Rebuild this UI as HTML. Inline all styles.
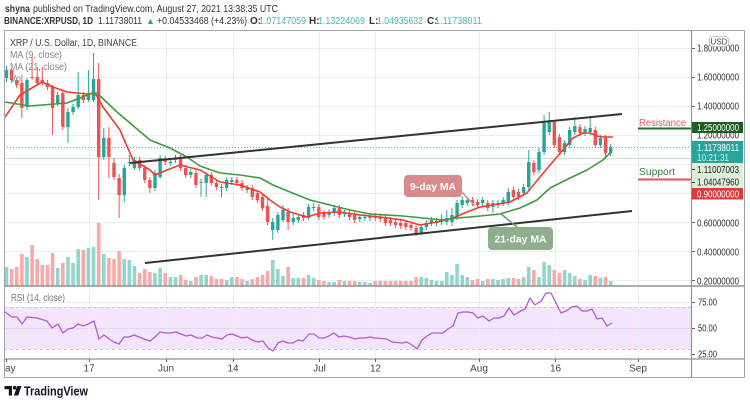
<!DOCTYPE html>
<html><head><meta charset="utf-8"><style>
html,body{margin:0;padding:0;background:#fff;}
body{width:750px;height:404px;overflow:hidden;}
svg{display:block;font-family:"Liberation Sans",sans-serif;}
</style></head><body>
<svg id="s" width="750" height="404" viewBox="0 0 750 404" xmlns="http://www.w3.org/2000/svg">
<rect width="750" height="404" fill="#fff"/>
<!-- header -->
<text x="5" y="12" font-size="10.5" fill="#333" font-weight="bold" textLength="25" lengthAdjust="spacingAndGlyphs">shyna</text>
<text x="33" y="12" font-size="10.5" fill="#333" textLength="245" lengthAdjust="spacingAndGlyphs">published on TradingView.com, August 27, 2021 13:38:35 UTC</text>
<text x="4" y="24" font-size="10" fill="#333" font-weight="bold" textLength="89" lengthAdjust="spacingAndGlyphs">BINANCE:XRPUSD, 1D</text>
<text x="98" y="24" font-size="10" fill="#333" textLength="44" lengthAdjust="spacingAndGlyphs">1.11738011</text>
<text x="146" y="24" font-size="9" fill="#26a69a">▲</text>
<text x="157" y="24" font-size="10" fill="#333" textLength="90" lengthAdjust="spacingAndGlyphs">+0.04533468 (+4.23%)</text>
<text x="250" y="24" font-size="10" fill="#333" font-weight="bold">O:</text>
<text x="259" y="24" font-size="10" fill="#4db6ac" textLength="47" lengthAdjust="spacingAndGlyphs">1.07147059</text>
<text x="309" y="24" font-size="10" fill="#333" font-weight="bold">H:</text>
<text x="318" y="24" font-size="10" fill="#4db6ac" textLength="47" lengthAdjust="spacingAndGlyphs">1.13224069</text>
<text x="369" y="24" font-size="10" fill="#333" font-weight="bold">L:</text>
<text x="377" y="24" font-size="10" fill="#4db6ac" textLength="46" lengthAdjust="spacingAndGlyphs">1.04935632</text>
<text x="427" y="24" font-size="10" fill="#333" font-weight="bold">C:</text>
<text x="435" y="24" font-size="10" fill="#4db6ac" textLength="47" lengthAdjust="spacingAndGlyphs">1.11738011</text>

<!-- RSI band -->
<rect x="4.5" y="307" width="687" height="42" fill="#f3e6fc"/>
<!-- grid -->
<g stroke="#e9eef3" stroke-width="1">
<line x1="4" x2="691" y1="48.5" y2="48.5"/><line x1="4" x2="691" y1="77.5" y2="77.5"/>
<line x1="4" x2="691" y1="106.5" y2="106.5"/><line x1="4" x2="691" y1="135.5" y2="135.5"/>
<line x1="4" x2="691" y1="164.5" y2="164.5"/><line x1="4" x2="691" y1="193.5" y2="193.5"/>
<line x1="4" x2="691" y1="222.5" y2="222.5"/><line x1="4" x2="691" y1="251.5" y2="251.5"/>
<line x1="4" x2="691" y1="280.5" y2="280.5"/>
<line x1="4" x2="691" y1="302.5" y2="302.5"/><line x1="4" x2="691" y1="328.5" y2="328.5" stroke="#e4d6ef"/>
<line x1="89.5" x2="89.5" y1="31" y2="359"/><line x1="166.5" x2="166.5" y1="31" y2="359"/>
<line x1="233.5" x2="233.5" y1="31" y2="359"/><line x1="319.5" x2="319.5" y1="31" y2="359"/>
<line x1="375.5" x2="375.5" y1="31" y2="359"/><line x1="479.5" x2="479.5" y1="31" y2="359"/>
<line x1="555.5" x2="555.5" y1="31" y2="359"/><line x1="638.5" x2="638.5" y1="31" y2="359"/>
</g>
<g stroke="#c9c9c9" stroke-width="1" stroke-dasharray="3,3">
<line x1="4" x2="691" y1="307.5" y2="307.5"/><line x1="4" x2="691" y1="349.5" y2="349.5"/>
</g>
<!-- price lines -->
<line x1="4" x2="691" y1="158.5" y2="158.5" stroke="#c8e6c4" stroke-width="1"/>
<line x1="4" x2="691" y1="147.5" y2="147.5" stroke="#5bb8a8" stroke-width="1" stroke-dasharray="1,2"/>

<g id="vol"></g>
<g id="cdl"></g>

<!-- MAs -->
<polyline fill="none" stroke="#f23b2f" stroke-width="1.6" stroke-linejoin="round" points="5,117 20,95 42,82 53,87 67,92 87,94 95,93 103,107 120,130 133,160 150,170 155,175 167,170 180,165 200,170 220,182 240,185 260,192 270,200 280,207 290,212 307,217 320,213 340,212 360,215 380,217 403,220 420,225 437,222 453,218 467,212 480,207 493,205 510,202 527,193 540,177 550,165 563,150 573,138 583,133 590,133 597,136 603,137 613,137"/>
<polyline fill="none" stroke="#3f9a3f" stroke-width="1.6" stroke-linejoin="round" points="5,102 30,106 67,103 90,94 97,93 117,112 150,140 170,148 187,157 200,166 220,173 240,175 260,178 273,185 290,192 310,200 330,205 350,210 370,214 403,216 423,218 443,220 457,218 470,217 500,214 520,208 537,200 550,188 570,178 587,170 603,160 611,152"/>

<!-- trend lines -->
<line x1="130" y1="163" x2="622" y2="114" stroke="#333" stroke-width="2"/>
<line x1="145" y1="263" x2="632" y2="211" stroke="#333" stroke-width="2"/>

<!-- annotations -->
<line x1="460" y1="190" x2="475" y2="206" stroke="#d98a8a" stroke-width="1.5"/>
<rect x="404" y="175" width="58" height="22" rx="4" fill="#d98a8a"/>
<text x="433" y="190" font-size="10" font-weight="bold" fill="#fff" text-anchor="middle" textLength="46" lengthAdjust="spacingAndGlyphs">9-day MA</text>
<line x1="500" y1="213" x2="518" y2="228" stroke="#6d9a6a" stroke-width="1.5"/>
<rect x="488" y="227" width="65" height="23" rx="4" fill="#8fae8c"/>
<text x="520.5" y="242.5" font-size="10" font-weight="bold" fill="#fff" text-anchor="middle" textLength="52" lengthAdjust="spacingAndGlyphs">21-day MA</text>

<text x="639" y="126" font-size="10.5" fill="#f25a5a" textLength="47" lengthAdjust="spacingAndGlyphs">Resistance</text>
<line x1="638" x2="692" y1="128.5" y2="128.5" stroke="#2b6a2b" stroke-width="2"/>
<text x="639" y="175" font-size="10.5" fill="#3a7d3a" textLength="36" lengthAdjust="spacingAndGlyphs">Support</text>
<line x1="638" x2="692" y1="179.5" y2="179.5" stroke="#e05555" stroke-width="2"/>

<!-- RSI line -->
<polyline fill="none" stroke="#b45ad6" stroke-width="1.3" stroke-linejoin="round" points="5,312 12,317 17,317 22,324 27,317 37,318 47,321 52,328 58,324 63,333 68,329 73,328 78,324 83,326 88,324 94,321 99,339 104,335 109,339 114,342 119,344 124,337 129,337 134,335 139,337 144,339 150,341 155,337 160,332 166,333 171,333 176,332 181,334 186,336 191,335 197,338 202,338 207,335 212,337 217,338 222,339 227,335 232,334 237,336 242,338 247,337 252,340 258,342 263,341 268,348 273,351 278,343 283,341 288,343 293,343 298,340 303,341 309,334 314,334 319,338 324,338 329,336 334,333 339,337 344,336 349,337 355,339 360,338 365,338 370,337 375,338 387,339 392,342 402,343 407,342 412,345 417,349 422,340 427,336 432,333 438,333 443,333 448,329 453,326 458,313 463,312 468,312 473,313 478,318 483,316 489,321 494,318 499,318 504,316 509,308 514,315 519,312 525,309 530,298 535,305 541,301 546,293 551,293 556,303 561,313 566,311 572,307 577,306 582,311 587,311 592,309 597,319 602,318 607,326 612,323"/>

<!-- legend -->
<text x="10" y="46" font-size="10" fill="#444" textLength="127" lengthAdjust="spacingAndGlyphs">XRP / U.S. Dollar, 1D, BINANCE</text>
<text x="10" y="58" font-size="10" fill="#888" textLength="52" lengthAdjust="spacingAndGlyphs">MA (9, close)</text>
<text x="10" y="70" font-size="10" fill="#888" textLength="57" lengthAdjust="spacingAndGlyphs">MA (21, close)</text>
<text x="10" y="82" font-size="10" fill="#888" textLength="13" lengthAdjust="spacingAndGlyphs">Vol</text>
<text x="11" y="301" font-size="10" fill="#777" textLength="54" lengthAdjust="spacingAndGlyphs">RSI (14, close)</text>

<!-- frame -->
<rect x="4.5" y="30.5" width="740" height="347" fill="none" stroke="#a3a6ab" stroke-width="1"/>
<line x1="691.5" x2="691.5" y1="30" y2="378" stroke="#8f9297" stroke-width="1.2"/>
<line x1="4" x2="745" y1="286" y2="286" stroke="#8f9297" stroke-width="1.5"/>
<line x1="4" x2="745" y1="359" y2="359" stroke="#8f9297" stroke-width="1.2"/>

<!-- price axis -->
<g font-size="10" fill="#333">
<text x="697" y="51.5" textLength="42" lengthAdjust="spacingAndGlyphs">1.80000000</text>
<text x="697" y="80.5" textLength="42" lengthAdjust="spacingAndGlyphs">1.60000000</text>
<text x="697" y="109.5" textLength="42" lengthAdjust="spacingAndGlyphs">1.40000000</text>
<text x="697" y="138.5" textLength="42" lengthAdjust="spacingAndGlyphs">1.20000000</text>
<text x="697" y="226.5" textLength="42" lengthAdjust="spacingAndGlyphs">0.60000000</text>
<text x="697" y="255.5" textLength="42" lengthAdjust="spacingAndGlyphs">0.40000000</text>
<text x="697" y="284.5" textLength="42" lengthAdjust="spacingAndGlyphs">0.20000000</text>
<text x="698" y="305.5" textLength="19" lengthAdjust="spacingAndGlyphs">75.00</text>
<text x="698" y="331.5" textLength="19" lengthAdjust="spacingAndGlyphs">50.00</text>
<text x="698" y="357.5" textLength="19" lengthAdjust="spacingAndGlyphs">25.00</text>
</g>
<g stroke="#666" stroke-width="1">
<line x1="692" x2="695" y1="48.5" y2="48.5"/><line x1="692" x2="695" y1="77.5" y2="77.5"/>
<line x1="692" x2="695" y1="106.5" y2="106.5"/><line x1="692" x2="695" y1="222.5" y2="222.5"/>
<line x1="692" x2="695" y1="251.5" y2="251.5"/><line x1="692" x2="695" y1="280.5" y2="280.5"/>
<line x1="692" x2="695" y1="302.5" y2="302.5"/><line x1="692" x2="695" y1="328.5" y2="328.5"/>
<line x1="692" x2="695" y1="354.5" y2="354.5"/>
</g>
<rect x="709.5" y="36.5" width="19" height="10" rx="3" fill="#fff" stroke="#c4c4c4"/>
<text x="719" y="44.5" font-size="8" fill="#444" text-anchor="middle">USD</text>

<rect x="692" y="122" width="51" height="11" fill="#1f5c1f"/>
<text x="697" y="131" font-size="10" fill="#fff" textLength="42" lengthAdjust="spacingAndGlyphs">1.25000000</text>
<rect x="692" y="141" width="51" height="22" fill="#26a69a"/>
<text x="697" y="151" font-size="10" fill="#fff" textLength="42" lengthAdjust="spacingAndGlyphs">1.11738011</text>
<text x="697" y="161" font-size="10" fill="#d8f1ee" textLength="32" lengthAdjust="spacingAndGlyphs">10:21:31</text>
<rect x="692" y="163" width="51" height="25" fill="#dbeed8"/>
<text x="697" y="173" font-size="10" fill="#222" textLength="42" lengthAdjust="spacingAndGlyphs">1.11007003</text>
<text x="697" y="185.5" font-size="10" fill="#222" textLength="42" lengthAdjust="spacingAndGlyphs">1.04047960</text>
<rect x="692" y="188" width="51" height="11.5" fill="#e03b3b"/>
<text x="697" y="197.5" font-size="10" fill="#fff" textLength="42" lengthAdjust="spacingAndGlyphs">0.90000000</text>
<g stroke="#444" stroke-width="1">
<line x1="692" x2="695" y1="169.5" y2="169.5"/><line x1="692" x2="695" y1="182.5" y2="182.5"/>
</g>

<!-- time axis -->
<g stroke="#666" stroke-width="1">
<line x1="6.5" x2="6.5" y1="359" y2="362"/><line x1="89.5" x2="89.5" y1="359" y2="362"/>
<line x1="166.5" x2="166.5" y1="359" y2="362"/><line x1="233.5" x2="233.5" y1="359" y2="362"/>
<line x1="319.5" x2="319.5" y1="359" y2="362"/><line x1="375.5" x2="375.5" y1="359" y2="362"/>
<line x1="479.5" x2="479.5" y1="359" y2="362"/><line x1="555.5" x2="555.5" y1="359" y2="362"/>
<line x1="638.5" x2="638.5" y1="359" y2="362"/>
</g>
<g font-size="10" fill="#444">
<text x="5" y="371.5">ay</text>
<text x="89" y="371.5" text-anchor="middle">17</text>
<text x="166" y="371.5" text-anchor="middle">Jun</text>
<text x="233" y="371.5" text-anchor="middle">14</text>
<text x="319.5" y="371.5" text-anchor="middle">Jul</text>
<text x="375.5" y="371.5" text-anchor="middle">12</text>
<text x="479" y="371.5" text-anchor="middle">Aug</text>
<text x="555.5" y="371.5" text-anchor="middle">16</text>
<text x="638" y="371.5" text-anchor="middle">Sep</text>
</g>

<!-- logo -->
<g fill="#131722">
<rect x="4.5" y="386" width="7.5" height="3.2"/>
<rect x="8.8" y="386" width="3.2" height="9.5"/>
<circle cx="14.6" cy="387.7" r="1.8"/>
<polygon points="17.2,386 21.5,386 18.2,395.5 13.9,395.5"/>
</g>
<text x="24" y="395.5" font-size="13" font-weight="bold" fill="#131722" textLength="64" lengthAdjust="spacingAndGlyphs">TradingView</text>
</svg>
<script>
var C=[[78,70,66,82],[70,80,68,83],[80,85,78,88],[83,108,80,118],[107,80,78,110],[77,78,57,80],[77,83,67,85],[80,83,67,85],[83,87,80,90],[87,108,85,135],
[103,95,92,106],[93,127,90,130],[127,112,108,143],[112,107,104,115],[107,95,72,109],[95,100,92,103],[100,93,70,102],[100,79,53,102],[79,157,63,200],[157,138,128,160],
[138,157,127,178],[163,177,158,180],[178,195,174,218],[195,168,165,202],[163,162,155,166],[168,160,157,170],[160,168,157,171],[168,180,165,183],[180,188,177,193],[188,173,170,191],
[177,158,155,179],[159,162,156,165],[163,162,159,166],[160,158,155,163],[158,168,155,171],[168,175,165,178],[175,172,169,178],[173,185,170,188],[183,182,179,197],[183,175,172,197],
[175,183,172,186],[183,187,180,190],[187,188,184,197],[188,180,177,191],[182,180,177,185],[180,183,177,186],[183,188,180,191],[190,188,185,193],[188,197,185,200],[193,200,190,203],
[197,208,194,211],[206,222,197,225],[230,222,218,240],[230,215,212,233],[220,210,205,222],[212,222,208,230],[222,218,214,225],[220,217,214,223],[215,218,212,221],[218,207,204,220],
[208,207,203,211],[207,217,204,220],[213,217,210,220],[215,212,209,218],[213,208,205,216],[208,215,205,218],[214,213,210,217],[213,217,210,220],[215,220,212,223],[219,217,214,222],
[218,217,214,221],[218,216,213,221],[216,218,213,221],[217,219,214,222],[217,223,214,226],[220,223,217,226],[222,225,219,228],[223,226,220,229],[223,227,220,230],[225,228,222,231],
[228,233,225,236],[233,227,224,235],[227,223,220,230],[223,220,217,226],[223,221,218,226],[222,220,214,225],[222,218,210,225],[222,215,208,226],[217,203,200,220],[205,200,196,208],
[203,200,197,206],[200,203,197,206],[202,205,199,208],[203,200,197,206],[203,208,200,211],[207,203,200,213],[205,203,200,208],[203,200,197,206],[202,192,188,205],[190,197,187,200],
[192,197,189,200],[193,187,184,196],[187,162,150,190],[163,172,160,175],[170,152,148,173],[152,123,115,155],[132,122,112,135],[122,145,120,148],[137,152,134,155],[152,143,140,155],
[145,130,127,148],[132,126,117,135],[127,133,124,136],[133,129,126,136],[132,128,118,135],[130,145,127,148],[145,138,135,148],[138,153,135,157],[153,147,144,156]];
var V=[267,269,267,254,257,245,259,265,265,253,268,263,257,263,249,250,248,247,223,254,258,259,251,259,260,266,273,269,272,273,268,273,277,277,
275,280,281,277,275,275,276,279,279,280,277,277,279,281,279,277,275,271,260,269,276,267,278,278,278,275,278,280,281,282,282,280,281,281,281,282,282,283,
281,281,281,281,281,281,281,281,277,277,278,280,281,281,272,275,264,275,277,280,279,281,279,279,280,279,278,278,279,277,267,270,277,262,265,270,
273,270,273,276,279,280,275,276,278,277,281];
var cs='',vs='';
for(var i=0;i<C.length;i++){
 var x=6+5.12*i,d=C[i],o=d[0],c=d[1],up=c<o;
 var col=up?'#26a69a':'#ef5350';
 var t=Math.min(o,c),h=Math.max(Math.abs(o-c),1);
 cs+='<line x1="'+(x+0.5)+'" x2="'+(x+0.5)+'" y1="'+d[2]+'" y2="'+d[3]+'" stroke="'+col+'" stroke-width="1"/>';
 cs+='<rect x="'+(x-1.2)+'" y="'+t+'" width="3.4" height="'+h+'" fill="'+col+'"/>';
 var vy=V[i]||281;
 vs+='<rect x="'+(x-1.3)+'" y="'+vy+'" width="3.6" height="'+(285.5-vy)+'" fill="'+(up?'#93d4cd':'#f7aaa8')+'"/>';
}
document.getElementById('cdl').innerHTML=cs;
document.getElementById('vol').innerHTML=vs;
</script>
</body></html>
